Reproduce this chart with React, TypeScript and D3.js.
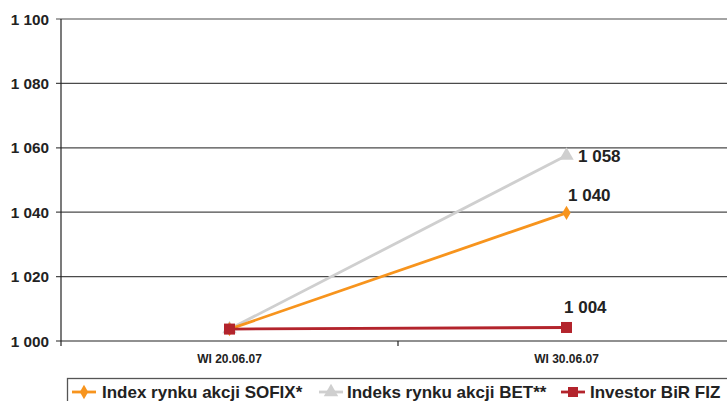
import { useEffect, useRef } from "react";
import * as d3 from "d3";

// dane
const categories = ["WI 20.06.07", "WI 30.06.07"];
const sofix = [1003.7, 1039.8];
const bet = [1003.7, 1057.6];
const investor = [1003.7, 1004.2];
const labels = ["1 040", "1 058", "1 004"];
const yTicks = [1000, 1020, 1040, 1060, 1080, 1100];

const seriesNames = ["Index rynku akcji SOFIX*", "Indeks rynku akcji BET**", "Investor BiR FIZ"];
const seriesColors = ["#F7941D", "#CFCFCF", "#B3242C"];

export default function App() {
  const svgRef = useRef<SVGSVGElement>(null);

  useEffect(() => {
    document.body.style.margin = "0";
    if (!svgRef.current) return;
    const svg = d3.select(svgRef.current);
    svg.selectAll("*").remove();

    const W = 727;
    const left = 61;
    const right = 735;
    const top = 19;
    const bottom = 341;
    const font = "Arial, 'Liberation Sans', sans-serif";

    const x = d3.scaleBand<string>().domain(categories).range([left, right]);
    const y = d3.scaleLinear().domain([1000, 1100]).range([bottom, top]);

    // siatka
    svg.append("g").selectAll("line")
      .data(yTicks)
      .join("line")
      .attr("x1", left - 5).attr("x2", W)
      .attr("y1", (d) => y(d)).attr("y2", (d) => y(d))
      .attr("stroke", (d) => (d === 1000 ? "#222" : "#4a4a4a"))
      .attr("stroke-width", 1.2);

    // oś y
    svg.append("line")
      .attr("x1", left).attr("x2", left)
      .attr("y1", top).attr("y2", bottom)
      .attr("stroke", "#222").attr("stroke-width", 1.2);

    // etykiety osi y
    svg.append("g").selectAll("text")
      .data(yTicks)
      .join("text")
      .attr("x", 49).attr("y", (d) => y(d) + 5.5)
      .attr("text-anchor", "end")
      .attr("font-family", font).attr("font-weight", "bold").attr("font-size", 15.3)
      .attr("fill", "#222")
      .text((d) => d3.format(",")(d).replace(",", " "));

    // znaczniki osi x
    const bandTicks = [left, left + x.bandwidth(), right];
    svg.append("g").selectAll("line")
      .data(bandTicks)
      .join("line")
      .attr("x1", (d) => d).attr("x2", (d) => d)
      .attr("y1", bottom).attr("y2", bottom + 5)
      .attr("stroke", "#222").attr("stroke-width", 1.2);

    svg.append("g").selectAll("text")
      .data(categories)
      .join("text")
      .attr("x", (d) => x(d)! + x.bandwidth() / 2)
      .attr("y", 363)
      .attr("text-anchor", "middle")
      .attr("font-family", font).attr("font-weight", "bold").attr("font-size", 12)
      .attr("fill", "#222")
      .text((d) => d);

    const cx = (i: number) => x(categories[i])! + x.bandwidth() / 2;
    const line = d3.line<number>().x((_, i) => cx(i)).y((d) => y(d));

    const series = [sofix, bet, investor];
    const order = [1, 0, 2];
    const diamond = d3.symbol().type(d3.symbolDiamond).size(60);
    const triangle = d3.symbol().type(d3.symbolTriangle).size(90);

    order.forEach((s) => {
      const vals = series[s];
      svg.append("path")
        .datum(vals)
        .attr("fill", "none")
        .attr("stroke", seriesColors[s])
        .attr("stroke-width", 2.8)
        .attr("d", line);
      vals.forEach((v, i) => {
        if (s === 2) {
          svg.append("rect")
            .attr("x", cx(i) - 5.5).attr("y", y(v) - 5.5)
            .attr("width", 11).attr("height", 11)
            .attr("fill", seriesColors[s]);
        } else {
          svg.append("path")
            .attr("transform", `translate(${cx(i)},${y(v)})`)
            .attr("d", s === 0 ? diamond : triangle)
            .attr("fill", seriesColors[s]);
        }
      });
    });

    // etykiety wartości
    const labelPos = [
      { dx: 1.5, dy: -11.5 },
      { dx: 11.5, dy: 6.5 },
      { dx: -2.5, dy: -14 },
    ];
    series.forEach((vals, s) => {
      svg.append("text")
        .attr("x", cx(1) + labelPos[s].dx)
        .attr("y", y(vals[1]) + labelPos[s].dy)
        .attr("font-family", font).attr("font-weight", "bold").attr("font-size", 17)
        .attr("fill", "#222")
        .text(labels[s]);
    });

    // legenda
    svg.append("rect")
      .attr("x", 67.5).attr("y", 378.5)
      .attr("width", 700).attr("height", 40)
      .attr("fill", "white").attr("stroke", "#555").attr("stroke-width", 1.3);

    const markerX = [84, 331, 573];
    const textX = [102, 347, 590];
    seriesNames.forEach((name, s) => {
      const g = svg.append("g").attr("transform", `translate(${markerX[s]},392)`);
      g.append("line")
        .attr("x1", -12).attr("x2", 12).attr("y1", 0).attr("y2", 0)
        .attr("stroke", seriesColors[s]).attr("stroke-width", 2.8);
      if (s === 2) {
        g.append("rect").attr("x", -5).attr("y", -5).attr("width", 10).attr("height", 10)
          .attr("fill", seriesColors[s]);
      } else {
        g.append("path")
          .attr("d", s === 0 ? diamond : triangle)
          .attr("fill", seriesColors[s]);
      }
      svg.append("text")
        .attr("x", textX[s]).attr("y", 398)
        .attr("font-family", font).attr("font-weight", "bold").attr("font-size", 17)
        .attr("fill", "#222")
        .text(name);
    });
  }, []);

  return <svg ref={svgRef} width={727} height={401} style={{ display: "block", background: "white" }} />;
}
